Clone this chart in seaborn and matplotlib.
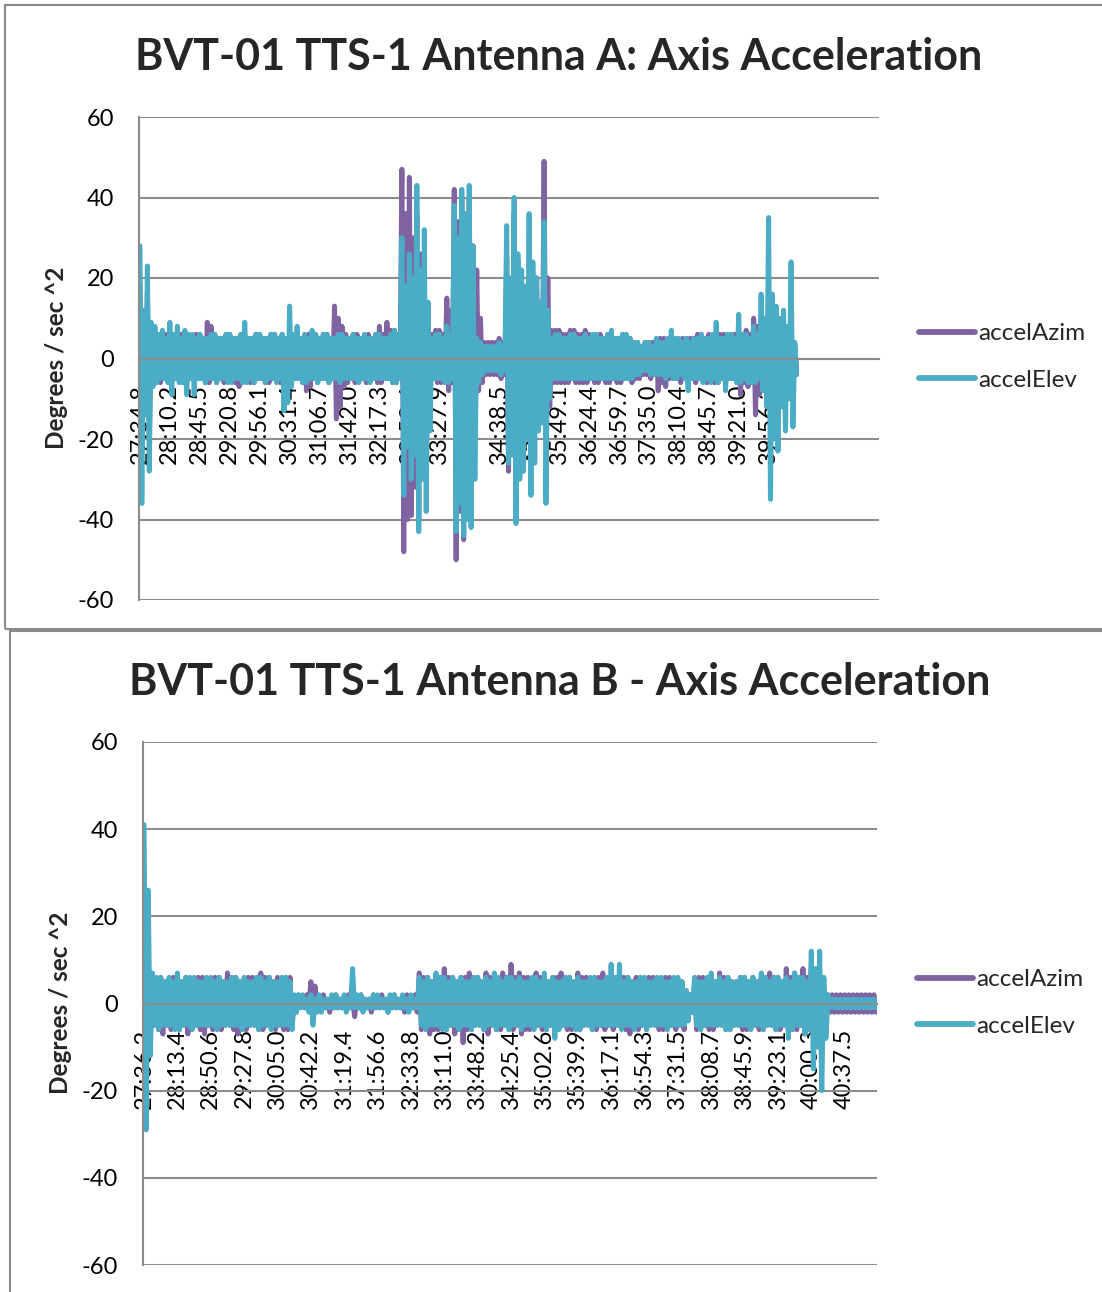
import numpy as np
import pandas as pd
import matplotlib
matplotlib.use("Agg")
import matplotlib.pyplot as plt
import seaborn as sns
from matplotlib.patches import Rectangle

# Antenna A: peak values read per short time slice (high, low, high, low, ...),
# one row per x tick interval
a_azim = [18, -22, 10, -12, 16, -20, 7, -6, 6, -5, 5, -6, 5, -5, 6, -5,
          6, -6, 5, -5, 5, -5, 6, -6, 6, -6, 5, -5, 5, -5, 6, -5,
          6, -5, 5, -6, 9, -6, 8, -5, 6, -6, 5, -5, 5, -6, 6, -5,
          6, -5, 5, -6, 5, -7, 6, -5, 6, -5, 5, -6, 5, -6, 6, -5,
          6, -5, 5, -6, 5, -6, 6, -5, 6, -5, 5, -6, 6, -5, 5, -6,
          5, -6, 6, -5, 6, -5, 5, -6, 5, -8, 6, -7, 6, -5, 5, -6,
          5, -5, 6, -5, 6, -6, 5, -5, 13, -15, 10, -12, 8, -7, 6, -6,
          5, -5, 6, -6, 6, -5, 5, -5, 5, -6, 6, -5, 5, -5, 6, -6,
          8, -6, 6, -5, 9, -5, 7, -6, 7, -6, 6, -5, 47, -48, 36, -40,
          45, -39, 30, -32, 36, -40, 26, -28, 20, -30, 10, -12, 6, -5, 7, -6,
          7, -6, 6, -5, 15, -8, 12, -6, 42, -50, 34, -38, 40, -45, 32, -36,
          40, -18, 28, -16, 22, -8, 10, -6, 4, -4, 4, -4, 4, -4, 4, -4,
          5, -5, 4, -4, 25, -28, 18, -20, 36, -34, 24, -26, 15, -20, 12, -14,
          20, -25, 16, -18, 20, -15, 14, -12, 49, -20, 20, -12, 7, -6, 7, -6,
          7, -6, 6, -6, 6, -6, 7, -5, 7, -6, 6, -6, 6, -6, 7, -6,
          6, -5, 5, -6, 6, -6, 6, -5, 5, -6, 6, -6, 6, -5, 5, -6,
          5, -6, 6, -5, 5, -5, 5, -6, 4, -5, 4, -5, 3, -4, 4, -4,
          4, -5, 4, -4, 4, -8, 5, -6, 5, -7, 4, -5, 5, -5, 5, -5,
          4, -6, 5, -5, 5, -6, 5, -5, 5, -6, 6, -5, 6, -5, 5, -6,
          6, -5, 5, -6, 5, -6, 6, -5, 6, -6, 5, -5, 6, -5, 6, -6,
          6, -9, 5, -6, 7, -7, 6, -6, 10, -14, 8, -9, 8, -8, 7, -7,
          14, -12, 10, -10, 8, -10, 7, -8, 8, -8, 6, -6, 4, -4, 3, -3]
a_elev = [28, -36, 12, -14, 23, -28, 9, -7, 8, -6, 6, -5, 7, -5, 5, -6,
          9, -9, 6, -5, 8, -6, 5, -6, 7, -9, 6, -5, 6, -9, 5, -5,
          6, -5, 5, -6, 5, -5, 6, -5, 6, -6, 5, -5, 5, -5, 6, -6,
          6, -6, 5, -5, 5, -5, 6, -6, 9, -6, 5, -5, 5, -6, 6, -5,
          6, -5, 5, -6, 5, -5, 6, -5, 6, -6, 5, -5, 6, -13, 5, -11,
          13, -7, 6, -5, 8, -5, 5, -6, 6, -6, 5, -5, 7, -5, 6, -6,
          5, -5, 6, -5, 6, -6, 5, -5, 5, -5, 6, -6, 6, -5, 5, -5,
          5, -5, 6, -5, 5, -6, 5, -5, 6, -5, 5, -6, 5, -5, 6, -5,
          6, -5, 5, -5, 5, -5, 6, -6, 7, -6, 6, -5, 30, -34, 18, -22,
          26, -30, 20, -24, 43, -43, 22, -30, 32, -38, 14, -18, 5, -5, 6, -5,
          6, -5, 5, -6, 8, -6, 6, -5, 38, -43, 30, -36, 42, -44, 36, -40,
          43, -42, 28, -30, 5, -6, 4, -4, 3, -3, 3, -3, 3, -3, 3, -3,
          4, -4, 3, -3, 33, -26, 20, -24, 40, -41, 26, -30, 22, -28, 18, -20,
          36, -34, 24, -26, 20, -18, 14, -16, 34, -36, 12, -10, 5, -5, 6, -5,
          6, -5, 5, -5, 5, -5, 6, -5, 6, -5, 5, -5, 5, -5, 6, -5,
          5, -5, 6, -5, 6, -5, 5, -5, 5, -5, 6, -5, 7, -5, 5, -5,
          5, -5, 6, -5, 6, -5, 5, -5, 4, -4, 4, -4, 3, -3, 4, -3,
          4, -4, 3, -4, 5, -4, 4, -4, 4, -5, 5, -4, 7, -5, 5, -5,
          5, -4, 4, -5, 5, -8, 4, -5, 5, -5, 5, -5, 6, -6, 5, -5,
          5, -6, 6, -5, 9, -6, 5, -5, 5, -8, 6, -5, 6, -5, 5, -6,
          11, -6, 6, -5, 6, -6, 5, -6, 8, -6, 6, -5, 16, -8, 10, -12,
          35, -35, 16, -20, 13, -23, 10, -12, 12, -18, 8, -10, 24, -17, 4, -4]
a_labels = ["27:34.8", "28:10.2", "28:45.5", "29:20.8", "29:56.1", "30:31.4",
            "31:06.7", "31:42.0", "32:17.3", "32:52.6", "33:27.9", "34:03.2",
            "34:38.5", "35:13.8", "35:49.1", "36:24.4", "36:59.7", "37:35.0",
            "38:10.4", "38:45.7", "39:21.0", "39:56.3"]

# Antenna B
b_azim = [20, -15, 10, -8, 6, -5, 5, -6, 6, -7, 5, -5, 5, -6, 6, -5,
          6, -6, 5, -5, 6, -7, 5, -6, 5, -5, 6, -6, 6, -7, 5, -5,
          5, -6, 6, -5, 6, -6, 5, -5, 7, -5, 6, -6, 6, -7, 5, -6,
          5, -6, 6, -5, 6, -5, 5, -6, 7, -6, 6, -5, 6, -5, 5, -6,
          6, -5, 5, -6, 6, -6, 6, -5, 1, -2, 2, -1, 1, -1, 2, -1,
          5, -2, 4, -1, 1, -1, 2, -1, 1, -2, 1, -1, 2, -1, 1, -1,
          1, -1, 2, -1, 1, -3, 1, -1, 2, -1, 1, -1, 1, -2, 2, -1,
          1, -1, 2, -1, 1, -2, 1, -1, 2, -1, 1, -1, 1, -2, 2, -1,
          1, -1, 2, -2, 7, -6, 6, -5, 6, -7, 5, -6, 6, -6, 6, -5,
          8, -6, 6, -5, 6, -7, 5, -6, 6, -9, 6, -6, 7, -6, 6, -5,
          6, -5, 5, -6, 7, -7, 6, -5, 6, -6, 5, -6, 7, -5, 6, -6,
          9, -6, 6, -5, 7, -7, 6, -6, 6, -6, 5, -5, 7, -5, 6, -6,
          6, -6, 5, -5, 6, -6, 6, -5, 7, -5, 6, -6, 6, -6, 5, -5,
          7, -6, 6, -5, 6, -5, 5, -6, 6, -6, 6, -5, 7, -6, 5, -5,
          6, -6, 5, -5, 6, -5, 6, -6, 6, -7, 5, -5, 6, -6, 6, -5,
          5, -6, 6, -5, 6, -5, 5, -6, 5, -6, 6, -5, 6, -5, 5, -6,
          5, -5, 5, -6, 2, -3, 2, -2, 5, -6, 6, -5, 6, -5, 5, -6,
          6, -6, 5, -5, 7, -5, 6, -6, 6, -6, 5, -5, 5, -5, 6, -6,
          6, -6, 5, -5, 6, -5, 5, -6, 6, -6, 6, -5, 7, -5, 6, -6,
          6, -6, 5, -5, 8, -6, 6, -6, 7, -6, 6, -5, 8, -7, 6, -6,
          8, -6, 6, -5, 5, -5, 3, -3, 2, -2, 2, -2, 2, -2, 2, -2,
          2, -2, 2, -2, 2, -2, 2, -2, 2, -2, 2, -2, 2, -2, 2, -2]
b_elev = [41, -29, 26, -12, 7, -5, 6, -6, 6, -5, 5, -5, 6, -5, 5, -6,
          7, -6, 5, -5, 6, -5, 6, -6, 6, -5, 5, -5, 5, -5, 6, -5,
          6, -5, 5, -6, 6, -5, 5, -5, 5, -5, 6, -5, 6, -5, 5, -6,
          6, -5, 5, -5, 5, -5, 6, -6, 6, -5, 5, -5, 6, -6, 5, -5,
          5, -5, 6, -5, 6, -5, 5, -6, 2, -2, 2, -1, 2, -1, 1, -2,
          2, -5, 1, -2, 2, -2, 1, -1, 1, -1, 2, -1, 2, -1, 1, -1,
          2, -2, 1, -1, 8, -1, 2, -1, 2, -2, 1, -1, 1, -1, 2, -1,
          2, -1, 1, -1, 1, -2, 2, -1, 2, -1, 1, -1, 2, -1, 1, -2,
          2, -1, 1, -1, 6, -5, 5, -6, 6, -5, 5, -5, 7, -5, 6, -6,
          6, -6, 5, -5, 6, -5, 5, -6, 6, -5, 5, -5, 5, -6, 6, -5,
          6, -5, 5, -6, 6, -5, 5, -5, 7, -6, 6, -5, 5, -5, 6, -6,
          6, -5, 5, -5, 6, -6, 5, -5, 5, -5, 6, -6, 6, -5, 5, -5,
          7, -6, 5, -5, 6, -8, 5, -6, 5, -5, 6, -5, 6, -5, 5, -6,
          6, -6, 5, -5, 5, -5, 6, -6, 6, -5, 5, -5, 5, -5, 6, -5,
          9, -5, 6, -5, 9, -6, 5, -5, 6, -5, 5, -6, 5, -5, 6, -5,
          6, -6, 5, -5, 5, -5, 6, -5, 6, -5, 5, -6, 5, -5, 6, -5,
          6, -5, 5, -5, 3, -4, 2, -2, 6, -5, 5, -6, 5, -5, 6, -5,
          7, -5, 5, -5, 6, -5, 5, -6, 6, -6, 5, -5, 5, -5, 6, -5,
          6, -5, 5, -6, 6, -5, 5, -5, 7, -6, 6, -5, 5, -5, 6, -6,
          6, -5, 5, -5, 6, -8, 5, -6, 7, -5, 6, -5, 6, -7, 5, -6,
          12, -15, 8, -10, 12, -20, 6, -8, 2, -1, 1, -1, 1, -1, 1, -1,
          1, -1, 1, -1, 1, -1, 1, -1, 1, -1, 1, -1, 1, -1, 1, -1]
b_labels = ["27:36.2", "28:13.4", "28:50.6", "29:27.8", "30:05.0", "30:42.2",
            "31:19.4", "31:56.6", "32:33.8", "33:11.0", "33:48.2", "34:25.4",
            "35:02.6", "35:39.9", "36:17.1", "36:54.3", "37:31.5", "38:08.7",
            "38:45.9", "39:23.1", "40:00.3", "40:37.5"]

purple = "#8064A2"
aqua = "#4BACC6"
grid_gray = "#8C8C8C"

sns.set_style("white")
plt.rcParams['font.family'] = ['Lato', 'DejaVu Sans']
plt.rcParams['axes.unicode_minus'] = False

W, H = 1102, 1292
fig = plt.figure(figsize=(W / 100, H / 100), dpi=100)


def fx(px):
    return px / W


def fy(py):
    return 1 - py / H


# chart frames
fig.patches.append(Rectangle((fx(5), fy(629)), fx(1120) - fx(5), fy(5) - fy(629),
                             transform=fig.transFigure, fill=False, edgecolor="#8A8A8A", lw=1.5))
fig.patches.append(Rectangle((fx(10), fy(1320)), fx(1120) - fx(10), fy(631) - fy(1320),
                             transform=fig.transFigure, fill=False, edgecolor="#8A8A8A", lw=1.5))

STEP = 16  # samples between category labels


def draw_chart(box, azim, elev, labels, xmax, title, title_xy, ylab_xy, leg_xy):
    ax = fig.add_axes(box)
    df = pd.DataFrame({"idx": np.arange(len(azim)), "accelAzim": azim, "accelElev": elev})
    sns.lineplot(data=df, x="idx", y="accelAzim", ax=ax, color=purple, linewidth=3.6,
                 estimator=None, sort=False, label="accelAzim", solid_joinstyle="round")
    sns.lineplot(data=df, x="idx", y="accelElev", ax=ax, color=aqua, linewidth=3.6,
                 estimator=None, sort=False, label="accelElev", solid_joinstyle="round")
    ax.set_ylim(-60, 60)
    ax.set_xlim(-0.5, xmax)
    ax.set_xlabel("")
    ax.set_ylabel("")
    ax.set_axisbelow(True)
    for s in ["top", "right"]:
        ax.spines[s].set_visible(False)
    ax.spines["bottom"].set_position(("data", 0))
    ax.spines["bottom"].set_color(grid_gray)
    ax.spines["bottom"].set_linewidth(1.5)
    ax.spines["left"].set_color(grid_gray)
    ax.spines["left"].set_linewidth(1.5)
    ax.set_yticks(range(-60, 61, 20))
    ax.set_yticklabels([str(v) for v in range(-60, 61, 20)])
    ax.set_xticks(range(0, STEP * len(labels), STEP))
    ax.set_xticklabels(labels)
    ax.grid(axis="y", color=grid_gray, lw=1.5)
    ax.grid(axis="x", visible=False)
    ax.tick_params(axis="x", length=0, pad=18, labelsize=17, colors="black",
                   labelrotation=90)
    ax.tick_params(axis="y", length=0, pad=18, labelsize=17, colors="black")
    leg = ax.legend(loc="center left", bbox_to_anchor=leg_xy, bbox_transform=fig.transFigure,
                    frameon=False, fontsize=17.5, handlelength=2.3, handletextpad=0.15,
                    labelspacing=1.05, borderpad=0, borderaxespad=0)
    for h in leg.get_lines():
        h.set_linewidth(4.2)
    fig.text(title_xy[0], title_xy[1], title, ha="center", va="center",
             fontsize=31, fontweight="bold")
    fig.text(ylab_xy[0], ylab_xy[1], "Degrees / sec ^2", rotation=90, ha="center",
             va="center", fontsize=17.5, fontweight="bold")
    return ax


draw_chart([fx(139), fy(600), fx(879) - fx(139), fy(117) - fy(600)],
           a_azim, a_elev, a_labels, 395,
           "BVT-01 TTS-1 Antenna A: Axis Acceleration",
           (fx(559), fy(57)), (fx(56), fy(358)), (fx(919), fy(357)))
draw_chart([fx(143), fy(1265), fx(877) - fx(143), fy(742) - fy(1265)],
           b_azim, b_elev, b_labels, 351.5,
           "BVT-01 TTS-1 Antenna B - Axis Acceleration",
           (fx(560), fy(682)), (fx(60), fy(1003)), (fx(917), fy(1003)))

fig.savefig("out.png", dpi=100)
